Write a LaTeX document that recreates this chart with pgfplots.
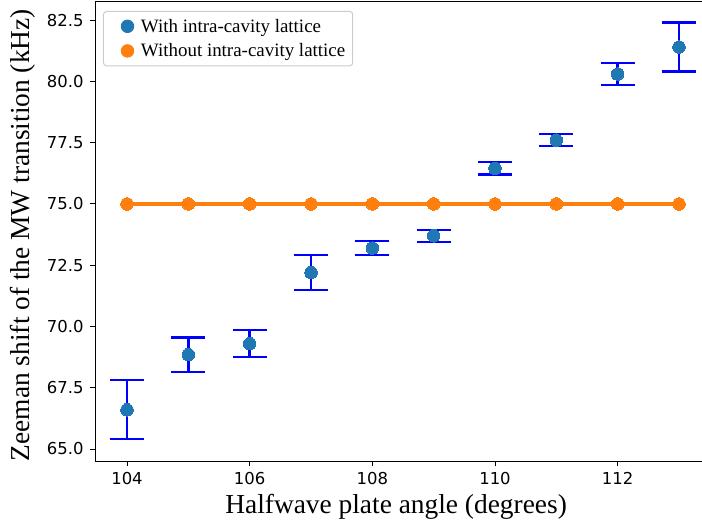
\documentclass[border=0pt]{standalone}
\usepackage{fontspec}
\setmainfont{Liberation Serif}
\newfontfamily\dejavu{DejaVu Sans}
\usepackage{pgfplots}
\pgfplotsset{compat=1.18}
\definecolor{c0}{HTML}{1F77B4}
\definecolor{c1}{HTML}{FF7F0E}
\definecolor{eb}{HTML}{0000FF}
\begin{document}
\begin{tikzpicture}
\begin{axis}[
  at={(0,0)}, anchor=south west,
  scale only axis,
  width=607bp, height=460bp,
  xmin=103.478, xmax=113.375,
  ymin=64.51, ymax=83.28,
  axis x line*=box, axis y line*=left,
  axis line style={line width=0.9bp, black},
  xtick={104,106,108,110,112},
  ytick={65,67.5,70,72.5,75,77.5,80,82.5},
  xtick pos=bottom, ytick pos=left,
  tick align=outside,
  major tick length=5bp,
  every tick/.style={black, line width=0.9bp},
  /pgf/number format/assume math mode=true,
  ticklabel style={font=\dejavu\fontsize{16.5}{18}\selectfont},
  yticklabel style={/pgf/number format/fixed, /pgf/number format/fixed zerofill,
    /pgf/number format/precision=1, xshift=-3bp},
  xticklabel style={yshift=-3bp},
  xlabel={Halfwave plate angle (degrees)},
  ylabel={Zeeman shift of the MW transition (kHz)},
  label style={font=\fontsize{27.5}{30}\selectfont},
  xlabel style={at={(axis description cs:0.496,0)}, anchor=base, yshift=-52bp},
  ylabel style={at={(axis description cs:-0.1186,0.491)}, anchor=center},
  legend style={at={(axis description cs:0,1)}, anchor=north west,
    xshift=8bp, yshift=-10bp, draw=black!20, line width=1bp, rounded corners=3bp,
    font=\fontsize{19}{21}\selectfont, inner sep=5bp, row sep=5bp,
    nodes={inner sep=2.5bp}},
  legend cell align=left,
  legend image code/.code={\path (0bp,0bp) (29bp,0bp);
    \draw[#1] plot coordinates {(18.5bp,0bp)};},
]
\addlegendimage{only marks, mark=*, mark size=6.2bp, mark options={draw=c0, fill=c0}}
\addlegendentry{With intra-cavity lattice}
\addlegendimage{only marks, mark=*, mark size=6.2bp, mark options={draw=c1, fill=c1}}
\addlegendentry{Without intra-cavity lattice}
\addplot[forget plot, only marks, mark=*, mark size=6.3bp, mark options={draw=c0, fill=c0, line width=0}]
  coordinates {
  (104,66.6) (105,68.85) (106,69.3) (107,72.2) (108,73.2)
  (109,73.7) (110,76.45) (111,77.6) (112,80.3) (113,81.4)
};
\addplot[forget plot, draw=none, mark=none,
  error bars/.cd, y dir=both, y explicit,
  error bar style={draw=eb, line width=2.4bp},
  error mark=|, error mark options={draw=eb, mark size=17bp, line width=2.2bp}]
  coordinates {
  (104,66.6) +- (0,1.2)
  (105,68.85) +- (0,0.7)
  (106,69.3) +- (0,0.55)
  (107,72.2) +- (0,0.7)
  (108,73.2) +- (0,0.3)
  (109,73.7) +- (0,0.25)
  (110,76.45) +- (0,0.25)
  (111,77.6) +- (0,0.25)
  (112,80.3) +- (0,0.45)
  (113,81.4) +- (0,1.0)
};
\addplot[forget plot, c1, line width=3.8bp, mark=*, mark size=6.3bp, mark options={draw=c1, fill=c1, line width=0}]
  coordinates {
  (104,75) (105,75) (106,75) (107,75) (108,75)
  (109,75) (110,75) (111,75) (112,75) (113,75)
};
\end{axis}
\pgfresetboundingbox
\path[use as bounding box] (-95bp,-64bp) rectangle (607bp,461bp);
\end{tikzpicture}
\end{document}
